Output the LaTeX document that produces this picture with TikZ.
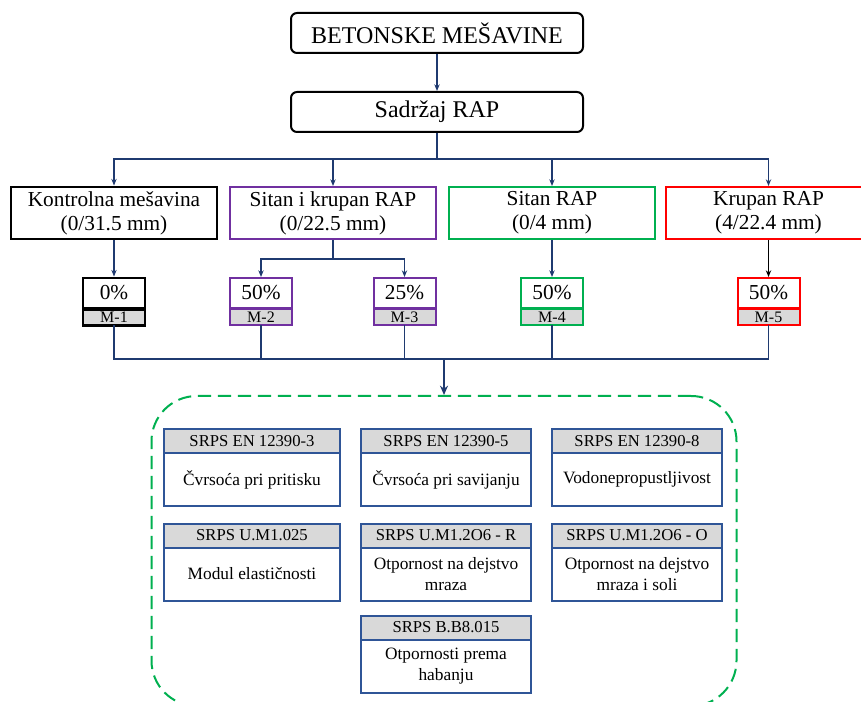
\documentclass[tikz,border=0pt]{standalone}
\usepackage{fontspec}
\setmainfont{Liberation Serif}
\usetikzlibrary{arrows.meta,positioning}
\definecolor{navy}{HTML}{1F3A70}
\definecolor{ljubicasta}{HTML}{7030A0}
\definecolor{zelena}{HTML}{00B050}
\definecolor{crvena}{HTML}{FF0000}
\definecolor{siva}{HTML}{D9D9D9}
\definecolor{plava}{HTML}{2F5597}

\begin{document}
\begin{tikzpicture}[%
      x=0.75pt, y=-0.75pt,
      glavni/.style={draw=black, line width=1.5pt, rounded corners=4.5pt, minimum width=219pt, minimum height=30pt, font=\fontsize{18}{21}\selectfont},
      grupa/.style={draw=#1, line width=1.5pt, minimum width=154.5pt, minimum height=39pt, align=center, inner sep=0pt, font=\fontsize{16}{18}\selectfont},
      udeo/.style={draw=#1, line width=1.5pt, minimum width=46.5pt, minimum height=22.5pt, inner sep=0pt, font=\fontsize{16}{18}\selectfont},
      oznaka/.style={draw=#1, line width=1.5pt, fill=siva, minimum width=46.5pt, minimum height=12pt, inner sep=0pt, outer sep=0pt, font=\fontsize{12}{12}\selectfont},
      standard/.style={draw=plava, line width=1.5pt, fill=siva, minimum width=#1, minimum height=18pt, inner sep=0pt, outer sep=0pt, font=\fontsize{12.5}{14}\selectfont},
      standard/.default=127.5pt,
      ispitivanje/.style={draw=plava, line width=1.5pt, minimum width=#1, minimum height=39.75pt, inner sep=0pt, outer sep=0pt, align=center, font=\fontsize{13}{16}\selectfont},
      ispitivanje/.default=127.5pt,
      okvir/.style={draw=zelena, line width=1.5pt, dash pattern=on 10pt off 5pt, rounded corners=34pt, minimum width=438.75pt, minimum height=232.5pt},
      veza/.style={color=navy, line width=0.9pt},
      strelica/.style={veza, -{Stealth[length=5pt,width=4pt]}},
      ]
      \useasboundingbox (0,0) rectangle (861,702);

      \node [glavni] (naslov) at (437,33) {BETONSKE MEŠAVINE};
      \node [glavni] (sadrzaj) at (437,112) {Sadržaj RAP};

      \node [grupa=black, line width=2.2pt] (g1) at (114,213) {Kontrolna mešavina\\(0/31.5 mm)};
      \node [grupa=ljubicasta] (g2) at (333,213) {Sitan i krupan RAP\\(0/22.5 mm)};
      \node [grupa=zelena] (g3) at (552,213) {Sitan RAP\\(0/4 mm)};
      \node [grupa=crvena] (g4) at (768.5,213) {Krupan RAP\\(4/22.4 mm)};

      \node [udeo=black, line width=2.2pt] (p1) at (114,293) {0\%};
      \node [oznaka=black, line width=2.2pt, below=0pt of p1] (m1) {M-1};
      \node [udeo=ljubicasta] (p2) at (261,293) {50\%};
      \node [oznaka=ljubicasta, below=0pt of p2] (m2) {M-2};
      \node [udeo=ljubicasta] (p3) at (404.5,293) {25\%};
      \node [oznaka=ljubicasta, below=0pt of p3] (m3) {M-3};
      \node [udeo=zelena] (p4) at (552,293) {50\%};
      \node [oznaka=zelena, below=0pt of p4] (m4) {M-4};
      \node [udeo=crvena] (p5) at (768.5,293) {50\%};
      \node [oznaka=crvena, below=0pt of p5] (m5) {M-5};

      \coordinate (grana) at (437,159);
      \coordinate (grana2) at (333,259);
      \coordinate (spoj) at (444,359);

      \draw [strelica] (naslov) -- (sadrzaj);
      \draw [veza] (sadrzaj.south) -- (grana);
      \draw [strelica] (grana) -| (g1.north);
      \draw [strelica] (grana) -| (g2.north);
      \draw [strelica] (grana) -| (g3.north);
      \draw [strelica] (grana) -| (g4.north);

      \draw [strelica] (g1) -- (p1);
      \draw [veza] (g2.south) -- (grana2);
      \draw [strelica] (grana2) -| (p2.north);
      \draw [strelica] (grana2) -| (p3.north);
      \draw [strelica] (g3) -- (p4);
      \draw [strelica, color=black] (g4) -- (p5);

      \draw [veza] (m1.south) |- (spoj);
      \draw [veza] (m2.south) |- (spoj);
      \draw [veza] (m3.south) |- (spoj);
      \draw [veza] (m4.south) |- (spoj);
      \draw [veza] (m5.south) |- (spoj);

      \node [okvir] (testovi) at (444,551) {};
      \draw [veza, line width=1.8pt, -{Stealth[length=7pt,width=6pt]}] (spoj) -- (testovi.north);

      \node [standard=132pt] (s1) at (252,441) {SRPS EN 12390-3};
      \node [ispitivanje=132pt, below=0pt of s1] (i1) {Čvrsoća pri pritisku};
      \node [standard] (s2) at (446,441) {SRPS EN 12390-5};
      \node [ispitivanje, below=0pt of s2] (i2) {Čvrsoća pri savijanju};
      \node [standard] (s3) at (637,441) {SRPS EN 12390-8};
      \node [ispitivanje, below=0pt of s3] (i3) {Vodonepropustljivost};

      \node [standard=132pt] (s4) at (252,535.5) {SRPS U.M1.025};
      \node [ispitivanje=132pt, below=0pt of s4] (i4) {Modul elastičnosti};
      \node [standard] (s5) at (446,535.5) {SRPS U.M1.2O6 - R};
      \node [ispitivanje, below=0pt of s5] (i5) {Otpornost na dejstvo\\mraza};
      \node [standard] (s6) at (637,535.5) {SRPS U.M1.2O6 - O};
      \node [ispitivanje, below=0pt of s6] (i6) {Otpornost na dejstvo\\mraza i soli};

      \node [standard] (s7) at (446,627.5) {SRPS B.B8.015};
      \node [ispitivanje, below=0pt of s7] (i7) {Otpornosti prema\\habanju};
\end{tikzpicture}
\end{document}
